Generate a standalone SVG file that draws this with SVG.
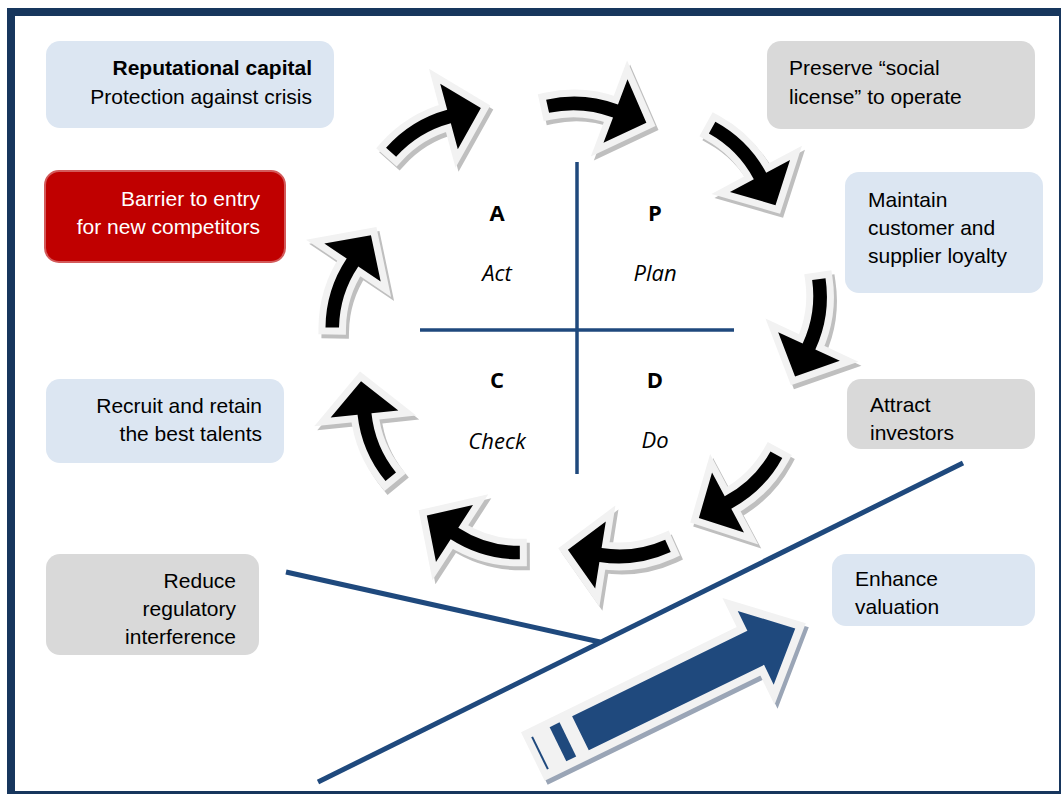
<svg xmlns="http://www.w3.org/2000/svg" xmlns:xlink="http://www.w3.org/1999/xlink" width="1061" height="794" viewBox="0 0 1061 794">
<style>
.bx-blue{fill:#dce6f2}
.bx-gray{fill:#d9d9d9}
.bx-red{fill:#c00000;stroke:#d35a5a;stroke-width:2}
.t{font-family:"Liberation Sans",Arial,sans-serif;font-size:21px;fill:#000}
.tw{fill:#fff}
.b{font-weight:bold}
.end{text-anchor:end}
.q{font-family:"Open Sans","DejaVu Sans",sans-serif;font-size:22px;fill:#000;text-anchor:middle}
.qb{font-weight:bold}
.qi{font-style:italic}
.ln{stroke:#1f497d;fill:none}
.sh{fill:#bfbfbf;stroke:#bfbfbf;stroke-width:14;stroke-linejoin:miter}
.ol{fill:#f2f2f2;stroke:#f2f2f2;stroke-width:14;stroke-linejoin:miter}
.bk{fill:#000}
</style>
<defs>
<path id="ca" d="M-68.9,13.9 A126.5,126.5 0 0 1 0,-7 L0,-34 L33,0 L0,34 L0,7 A113,113 0 0 0 -61.5,25.2 Z"/>
<path id="bigA" d="M0,-19 L240,-19 L240,-41 L284,0 L240,41 L240,19 L0,19 Z"/>
</defs>
<rect x="0" y="0" width="1061" height="794" fill="#fff"/>
<rect x="11" y="12" width="1052" height="783" fill="none" stroke="#17365d" stroke-width="8"/>

<g id="connectors">
<line class="ln" x1="577" y1="162" x2="577" y2="474" stroke-width="3.5"/>
<line class="ln" x1="420" y1="330" x2="734" y2="330" stroke-width="3.5"/>
<line class="ln" x1="286" y1="572" x2="600" y2="642" stroke-width="5"/>
<line class="ln" x1="318" y1="782" x2="963" y2="463" stroke-width="5"/>
</g>

<g id="cycle-arrows">
<g id="arrow1"><use xlink:href="#ca" class="sh" transform="translate(452,120.5) rotate(-15)"/><use xlink:href="#ca" class="ol" transform="translate(449,116.5) rotate(-15)"/><use xlink:href="#ca" class="bk" transform="translate(449,116.5) rotate(-15)"/></g>
<g id="arrow2"><use xlink:href="#ca" class="sh" transform="translate(618.5,115) rotate(20.7)"/><use xlink:href="#ca" class="ol" transform="translate(615.5,111) rotate(20.7)"/><use xlink:href="#ca" class="bk" transform="translate(615.5,111) rotate(20.7)"/></g>
<g id="arrow3"><use xlink:href="#ca" class="sh" transform="translate(763,180) rotate(62)"/><use xlink:href="#ca" class="ol" transform="translate(760,176) rotate(62)"/><use xlink:href="#ca" class="bk" transform="translate(760,176) rotate(62)"/></g>
<g id="arrow4"><use xlink:href="#ca" class="sh" transform="translate(812,350.5) rotate(115)"/><use xlink:href="#ca" class="ol" transform="translate(809,346.5) rotate(115)"/><use xlink:href="#ca" class="bk" transform="translate(809,346.5) rotate(115)"/></g>
<g id="arrow5"><use xlink:href="#ca" class="sh" transform="translate(731,506.5) rotate(152)"/><use xlink:href="#ca" class="ol" transform="translate(728,502.5) rotate(152)"/><use xlink:href="#ca" class="bk" transform="translate(728,502.5) rotate(152)"/></g>
<g id="arrow6"><use xlink:href="#ca" class="sh" transform="translate(603.5,559) rotate(189)"/><use xlink:href="#ca" class="ol" transform="translate(600.5,555) rotate(189)"/><use xlink:href="#ca" class="bk" transform="translate(600.5,555) rotate(189)"/></g>
<g id="arrow7"><use xlink:href="#ca" class="sh" transform="translate(457.5,537.5) rotate(213)"/><use xlink:href="#ca" class="ol" transform="translate(454.5,533.5) rotate(213)"/><use xlink:href="#ca" class="bk" transform="translate(454.5,533.5) rotate(213)"/></g>
<g id="arrow8"><use xlink:href="#ca" class="sh" transform="translate(367.5,418) rotate(264)"/><use xlink:href="#ca" class="ol" transform="translate(364.5,414) rotate(264)"/><use xlink:href="#ca" class="bk" transform="translate(364.5,414) rotate(264)"/></g>
<g id="arrow9"><use xlink:href="#ca" class="sh" transform="translate(355.5,266.5) rotate(304)"/><use xlink:href="#ca" class="ol" transform="translate(352.5,262.5) rotate(304)"/><use xlink:href="#ca" class="bk" transform="translate(352.5,262.5) rotate(304)"/></g>
</g>

<g id="quadrants">
<text class="q qb" x="497" y="221">A</text>
<text class="q qi" x="497" y="281">Act</text>
<text class="q qb" x="655" y="221">P</text>
<text class="q qi" x="655" y="281">Plan</text>
<text class="q qb" x="497" y="388">C</text>
<text class="q qi" x="497" y="449">Check</text>
<text class="q qb" x="655" y="388">D</text>
<text class="q qi" x="655" y="448">Do</text>
</g>

<g id="node-reputational">
<rect class="bx-blue" x="46" y="41" width="288" height="87" rx="14"/>
<text class="t b end" x="312" y="75">Reputational capital</text>
<text class="t end" x="312" y="104">Protection against crisis</text>
</g>
<g id="node-barrier">
<rect class="bx-red" x="45" y="171" width="240" height="91" rx="14"/>
<text class="t tw end" x="260" y="206">Barrier to entry</text>
<text class="t tw end" x="260" y="234">for new competitors</text>
</g>
<g id="node-recruit">
<rect class="bx-blue" x="46" y="379" width="238" height="84" rx="14"/>
<text class="t end" x="262" y="413">Recruit and retain</text>
<text class="t end" x="262" y="441">the best talents</text>
</g>
<g id="node-reduce">
<rect class="bx-gray" x="46" y="554" width="213" height="101" rx="14"/>
<text class="t end" x="236" y="588">Reduce</text>
<text class="t end" x="236" y="616">regulatory</text>
<text class="t end" x="236" y="644">interference</text>
</g>
<g id="node-preserve">
<rect class="bx-gray" x="767" y="41" width="268" height="88" rx="14"/>
<text class="t" x="789" y="75">Preserve “social</text>
<text class="t" x="789" y="104">license” to operate</text>
</g>
<g id="node-maintain">
<rect class="bx-blue" x="845" y="172" width="198" height="121" rx="14"/>
<text class="t" x="868" y="207">Maintain</text>
<text class="t" x="868" y="235">customer and</text>
<text class="t" x="868" y="263">supplier loyalty</text>
</g>
<g id="node-attract">
<rect class="bx-gray" x="847" y="379" width="188" height="70" rx="14"/>
<text class="t" x="870" y="412">Attract</text>
<text class="t" x="870" y="440">investors</text>
</g>
<g id="node-enhance">
<rect class="bx-blue" x="832" y="554" width="203" height="72" rx="14"/>
<text class="t" x="855" y="586">Enhance</text>
<text class="t" x="855" y="614">valuation</text>
</g>

<g id="growth-arrow">
<use xlink:href="#bigA" transform="translate(543,757) rotate(-26)" fill="#9aa5b6" stroke="#9aa5b6" stroke-width="16" stroke-linejoin="miter"/>
<use xlink:href="#bigA" transform="translate(540,753) rotate(-26)" fill="#f2f2f2" stroke="#f2f2f2" stroke-width="16" stroke-linejoin="miter"/>
<g transform="translate(540,753) rotate(-26)" fill="#1f497d">
<rect x="-1" y="-18" width="2" height="36"/>
<rect x="20" y="-19" width="11" height="38"/>
<path d="M45,-19 L240,-19 L240,-41 L284,0 L240,41 L240,19 L45,19 Z"/>
</g>
</g>
</svg>
